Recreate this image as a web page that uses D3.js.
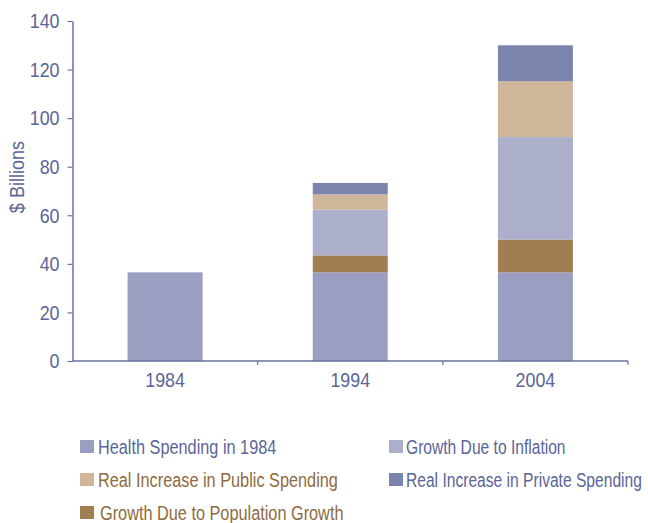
<!DOCTYPE html>
<html>
<head>
<meta charset="utf-8">
<script src="https://cdn.jsdelivr.net/npm/d3@7"></script>
<style>
  html, body { margin: 0; padding: 0; background: #fff; }
  svg { display: block; font-family: "Liberation Sans", Arial, sans-serif; }
</style>
</head>
<body>
<svg id="chart" width="648" height="523"></svg>
<script>
// Health spending decomposition, $ billions
const years = ["1984", "1994", "2004"];
const seriesNames = [
  "Health Spending in 1984",
  "Growth Due to Population Growth",
  "Growth Due to Inflation",
  "Real Increase in Public Spending",
  "Real Increase in Private Spending"
];
const healthSpending1984 = [36.5, 36.5, 36.5];
const populationGrowth   = [0, 7.0, 13.5];
const inflationGrowth    = [0, 18.8, 42.2];
const publicIncrease     = [0, 6.3, 23.0];
const privateIncrease    = [0, 4.7, 14.8];
const yTicks = [0, 20, 40, 60, 80, 100, 120, 140];

const colors = ["#9a9fc2", "#a07e52", "#abafcb", "#cfb69a", "#7b84ac"];
const textColors = {
  "Health Spending in 1984": "#5b6597",
  "Growth Due to Population Growth": "#8e6b40",
  "Growth Due to Inflation": "#5b6597",
  "Real Increase in Public Spending": "#8e6b40",
  "Real Increase in Private Spending": "#5b6597"
};
const axisColor = "#6a729f";
const labelColor = "#5b6597";

const rows = years.map((yr, i) => ({
  year: yr,
  [seriesNames[0]]: healthSpending1984[i],
  [seriesNames[1]]: populationGrowth[i],
  [seriesNames[2]]: inflationGrowth[i],
  [seriesNames[3]]: publicIncrease[i],
  [seriesNames[4]]: privateIncrease[i]
}));

const svg = d3.select("#chart");
const plotLeft = 72.5, plotRight = 628, plotTop = 21, plotBottom = 361;

const x = d3.scaleBand().domain(years).range([plotLeft, plotRight]).padding(0);
const y = d3.scaleLinear().domain([0, 140]).range([plotBottom, plotTop]);
const barW = x.bandwidth() * 0.405;

const stacked = d3.stack().keys(seriesNames)(rows);
const color = d3.scaleOrdinal().domain(seriesNames).range(colors);

// squeeze a text selection horizontally to mimic a narrow typeface
function narrow(sel, k) {
  sel.each(function (d) {
    const f = typeof k === "function" ? k(d) : k;
    const w = this.getComputedTextLength();
    d3.select(this).attr("textLength", w * f).attr("lengthAdjust", "spacingAndGlyphs");
  });
}

// stacked bars
svg.append("g").selectAll("g")
  .data(stacked).join("g")
  .attr("fill", d => color(d.key))
  .selectAll("rect")
  .data(d => d.filter(s => s[1] - s[0] > 0))
  .join("rect")
  .attr("x", d => x(d.data.year) + (x.bandwidth() - barW) / 2)
  .attr("width", barW)
  .attr("y", d => y(d[1]))
  .attr("height", d => y(d[0]) - y(d[1]));

// y axis
const yAxis = svg.append("g")
  .attr("transform", `translate(${plotLeft},0)`)
  .call(d3.axisLeft(y).tickValues(yTicks).tickSize(5).tickPadding(8).tickSizeOuter(0));
yAxis.select(".domain").attr("stroke", axisColor).attr("stroke-width", 1.5);
yAxis.selectAll(".tick line").attr("stroke", axisColor).attr("stroke-width", 1.2);
yAxis.selectAll(".tick text")
  .attr("fill", labelColor).style("font-size", "21px")
  .style("font-family", "inherit")
  .call(narrow, 0.85);

// x axis, ticks between categories
const xAxis = svg.append("g").attr("transform", `translate(0,${plotBottom})`);
xAxis.append("line")
  .attr("x1", plotLeft).attr("x2", plotRight)
  .attr("stroke", axisColor).attr("stroke-width", 1.5);
xAxis.selectAll(".sep")
  .data(years).join("line")
  .attr("class", "sep")
  .attr("x1", d => x(d) + x.bandwidth()).attr("x2", d => x(d) + x.bandwidth())
  .attr("y1", 0).attr("y2", 4)
  .attr("stroke", axisColor).attr("stroke-width", 1.2);
xAxis.selectAll(".lbl")
  .data(years).join("text")
  .attr("class", "lbl")
  .attr("x", d => x(d) + x.bandwidth() / 2)
  .attr("y", 26)
  .attr("text-anchor", "middle")
  .attr("fill", labelColor)
  .style("font-size", "21px")
  .text(d => d)
  .call(narrow, 0.85);

// y axis title
svg.append("text")
  .attr("transform", "translate(24,177) rotate(-90)")
  .attr("text-anchor", "middle")
  .attr("fill", labelColor)
  .style("font-size", "21px")
  .text("$ Billions")
  .call(narrow, 0.86);

// legend
const legendOrder = [
  { name: seriesNames[0], col: 0, row: 0 },
  { name: seriesNames[2], col: 1, row: 0 },
  { name: seriesNames[3], col: 0, row: 1 },
  { name: seriesNames[4], col: 1, row: 1 },
  { name: seriesNames[1], col: 0, row: 2 }
];
const colX = [80, 389], textX = [18, 17], rowBase = [454, 487, 520];
const legend = svg.append("g").selectAll("g")
  .data(legendOrder).join("g")
  .attr("transform", d => `translate(${colX[d.col]},${rowBase[d.row]})`);
legend.append("rect")
  .attr("x", 0).attr("y", -14).attr("width", 14).attr("height", 13)
  .attr("fill", d => color(d.name));
legend.append("text")
  .attr("x", d => textX[d.col] + (d.row === 2 ? 2 : 0)).attr("y", 0)
  .attr("fill", d => textColors[d.name])
  .style("font-size", "19.5px")
  .text(d => d.name)
  .call(narrow, d => (d.col === 0 ? 0.835 : 0.8));
</script>
</body>
</html>
